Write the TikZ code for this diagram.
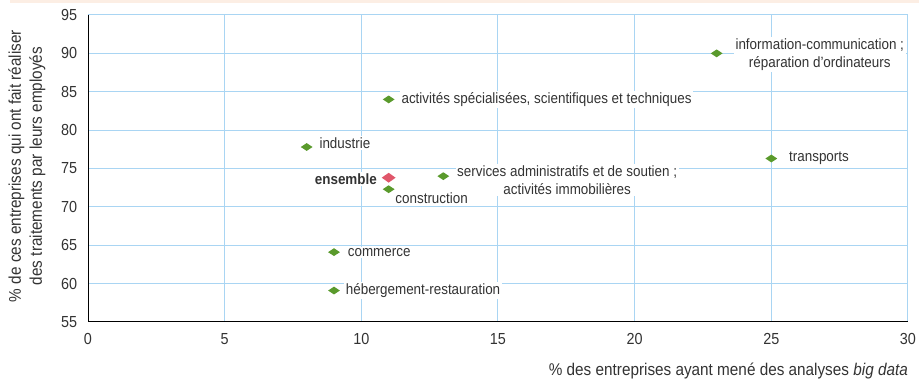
\documentclass[tikz,border=0pt]{standalone}
\usepackage{fontspec}
\setmainfont{Liberation Sans}[FakeStretch=0.9]
\usetikzlibrary{shapes.geometric}
\definecolor{gridblue}{HTML}{A9D5F3}
\definecolor{txt}{HTML}{333333}
\definecolor{ptgreen}{HTML}{5A9A2C}
\definecolor{ptred}{HTML}{E0566A}
\definecolor{band}{HTML}{FCEEE4}
\tikzset{
  gridline/.style={draw=gridblue, line width=1pt},
  axisline/.style={draw=black, line width=1pt},
  pt/.style={shape=diamond, fill=ptgreen, inner sep=0pt, minimum width=12pt, minimum height=8pt},
  ptred/.style={shape=diamond, fill=ptred, inner sep=0pt, minimum width=14pt, minimum height=10pt},
  lab/.style={text=txt, fill=white, inner sep=1.5pt, font=\fontsize{14.9}{18}\selectfont, align=center},
  tick/.style={text=txt, font=\fontsize{16}{19}\selectfont, inner sep=1pt},
  axtitle/.style={text=txt, font=\fontsize{17}{21}\selectfont, align=center, inner sep=0pt},
}
\begin{document}
\begin{tikzpicture}[x=1pt,y=1pt]
\useasboundingbox (0,0) rectangle (919,382);
\fill[band] (10,379) rectangle (919,382);
\begin{scope}[shift={(88,60)}, x=27.333pt, y=7.675pt]
  % grid
  \foreach \v in {60,65,...,95} \draw[gridline] (0,\v-55) -- (30,\v-55);
  \foreach \u in {5,10,...,30} \draw[gridline] (\u,0) -- (\u,40);
  % axes
  \draw[axisline] (0,40) -- (0,0) -- (30,0);
  % tick labels
  \foreach \v in {55,60,...,95} \node[tick, anchor=east] (ty\v) at (-0.35,\v-55) {\v};
  \foreach \u in {0,5,...,30} \node[tick, anchor=north] (tx\u) at (\u,-1.3) {\u};
  % points
  \node[pt] (ic) at (23,90-55) {};
  \node[pt] (as) at (11,84-55) {};
  \node[pt] (ind) at (8,77.8-55) {};
  \node[pt] (tr) at (25,76.3-55) {};
  \node[pt] (sa) at (13,74-55) {};
  \node[pt] (co) at (11,72.3-55) {};
  \node[pt] (cm) at (9,64.1-55) {};
  \node[pt] (hr) at (9,59.1-55) {};
  \node[ptred] (en) at (11,73.8-55) {};
\end{scope}
% labels
\node[lab, anchor=west] (lic) at ([xshift=11pt,yshift=-1pt]ic.east) {information-communication ;\\réparation d’ordinateurs};
\node[lab, anchor=west] (las) at ([xshift=5pt]as.east) {activités spécialisées, scientifiques et techniques};
\node[lab, anchor=west] (lind) at ([xshift=5pt,yshift=4pt]ind.east) {industrie};
\node[lab, anchor=west] (ltr) at ([xshift=10pt]tr.east) {transports};
\node[lab, anchor=west] (lsa) at ([xshift=6pt,yshift=-4pt]sa.east) {services administratifs et de soutien ;\\activités immobilières};
\node[lab, anchor=north west] (lco) at ([xshift=2pt,yshift=0pt]co.south east) {construction};
\node[lab, anchor=west] (lcm) at ([xshift=6pt]cm.east) {commerce};
\node[lab, anchor=west] (lhr) at ([xshift=4pt]hr.east) {hébergement-restauration};
\node[lab, anchor=east, font=\fontsize{14.9}{18}\selectfont\bfseries] (len) at ([xshift=-3pt,yshift=-1pt]en.west) {ensemble};
% axis titles
\node[axtitle, anchor=base east] (xt) at (908,6) {\% des entreprises ayant mené des analyses \textit{big data}};
\node[axtitle, rotate=90, anchor=center] (yt) at (27,216) {\% de ces entreprises qui ont fait réaliser\\des traitements par leurs employés};
\end{tikzpicture}
\end{document}
